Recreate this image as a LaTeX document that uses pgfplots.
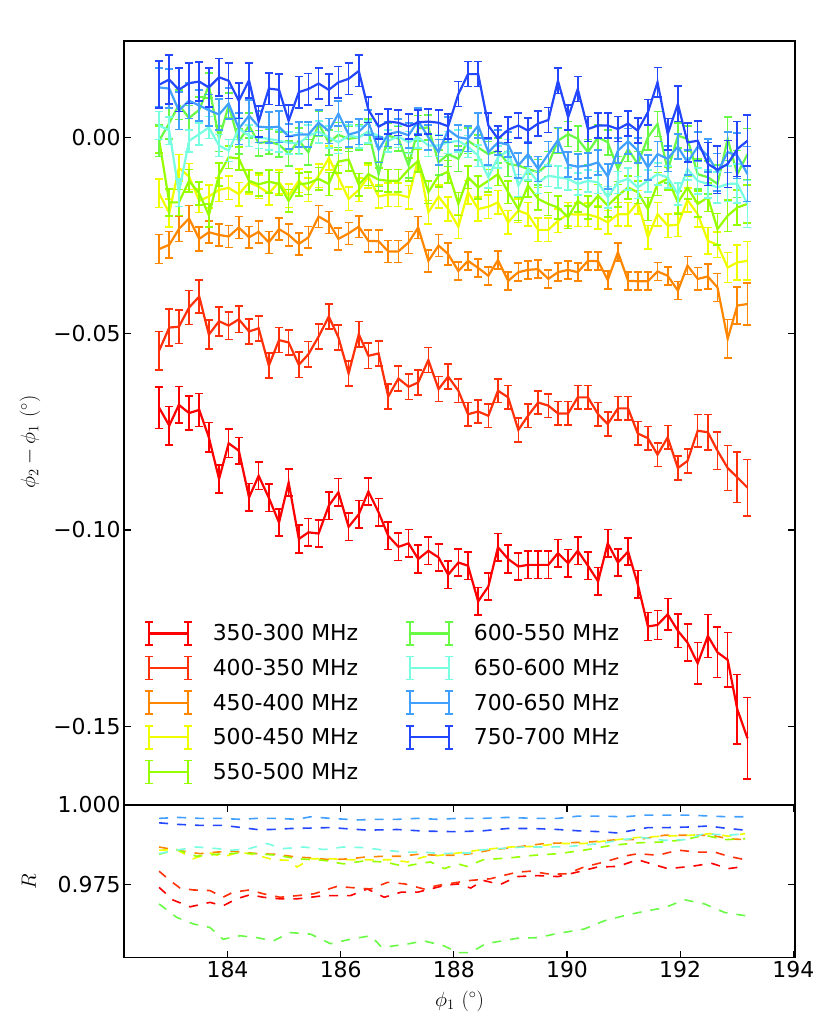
\documentclass[border=0pt]{standalone}
\usepackage{pgfplots}
\pgfplotsset{compat=1.18}
\usepackage{pgfplotstable}
\usepackage{fontspec}
\setmainfont{DejaVu Sans}
\newcommand\fs{\fontsize{22}{26}\selectfont}
\definecolor{cA}{RGB}{255,0,0}
\definecolor{cB}{RGB}{255,48,10}
\definecolor{cC}{RGB}{255,135,0}
\definecolor{cD}{RGB}{240,255,0}
\definecolor{cE}{RGB}{150,255,0}
\definecolor{cF}{RGB}{105,250,70}
\definecolor{cG}{RGB}{120,255,225}
\definecolor{cH}{RGB}{65,160,255}
\definecolor{cI}{RGB}{35,70,255}
\pgfplotstableread{
x A eA B eB C eC D eD E eE F eF G eG H eH I eI
182.79 -0.0688 0.0053 -0.0543 0.0049 -0.0284 0.0037 -0.0142 0.0036 -0.0005 0.0034 -0.0008 0.0040 0.0031 0.0036 0.0128 0.0050 0.0135 0.0060
182.97 -0.0734 0.0049 -0.0484 0.0047 -0.0273 0.0034 -0.0192 0.0036 -0.0165 0.0034 0.0037 0.0040 0.0018 0.0035 0.0125 0.0050 0.0148 0.0062
183.14 -0.0681 0.0047 -0.0482 0.0043 -0.0233 0.0032 -0.0077 0.0034 -0.0165 0.0033 0.0084 0.0038 -0.0140 0.0035 0.0069 0.0048 0.0122 0.0055
183.32 -0.0702 0.0043 -0.0433 0.0043 -0.0206 0.0033 -0.0099 0.0033 -0.0110 0.0029 0.0050 0.0032 -0.0008 0.0028 0.0094 0.0045 0.0139 0.0052
183.50 -0.0694 0.0042 -0.0405 0.0042 -0.0258 0.0031 -0.0161 0.0030 -0.0142 0.0029 0.0071 0.0032 0.0009 0.0028 0.0082 0.0040 0.0143 0.0050
183.67 -0.0764 0.0038 -0.0502 0.0037 -0.0241 0.0028 -0.0150 0.0030 -0.0198 0.0029 0.0133 0.0032 0.0026 0.0028 0.0070 0.0040 0.0128 0.0050
183.85 -0.0870 0.0036 -0.0468 0.0037 -0.0248 0.0028 -0.0133 0.0030 -0.0094 0.0029 -0.0003 0.0032 -0.0020 0.0028 0.0059 0.0040 0.0154 0.0048
184.02 -0.0779 0.0036 -0.0479 0.0035 -0.0252 0.0028 -0.0128 0.0030 -0.0050 0.0029 0.0082 0.0032 -0.0033 0.0028 0.0087 0.0040 0.0145 0.0045
184.20 -0.0798 0.0034 -0.0463 0.0034 -0.0229 0.0028 -0.0144 0.0030 -0.0053 0.0029 -0.0010 0.0032 0.0023 0.0028 0.0023 0.0040 0.0094 0.0045
184.38 -0.0917 0.0035 -0.0494 0.0032 -0.0254 0.0028 -0.0114 0.0030 -0.0110 0.0029 0.0031 0.0032 0.0005 0.0028 0.0056 0.0040 0.0146 0.0045
184.55 -0.0862 0.0035 -0.0486 0.0032 -0.0240 0.0028 -0.0125 0.0030 -0.0119 0.0029 -0.0014 0.0032 0.0000 0.0028 0.0028 0.0040 0.0041 0.0040
184.73 -0.0918 0.0035 -0.0581 0.0032 -0.0267 0.0028 -0.0142 0.0030 -0.0112 0.0029 -0.0010 0.0032 -0.0003 0.0028 0.0026 0.0040 0.0125 0.0040
184.91 -0.0981 0.0035 -0.0516 0.0032 -0.0233 0.0028 -0.0113 0.0030 -0.0118 0.0029 -0.0018 0.0032 -0.0008 0.0028 0.0028 0.0040 0.0122 0.0040
185.08 -0.0879 0.0035 -0.0522 0.0032 -0.0248 0.0028 -0.0148 0.0030 -0.0161 0.0029 -0.0040 0.0032 -0.0013 0.0028 0.0003 0.0032 0.0043 0.0040
185.26 -0.1023 0.0035 -0.0579 0.0032 -0.0271 0.0028 -0.0110 0.0030 -0.0119 0.0029 -0.0008 0.0032 -0.0015 0.0028 0.0008 0.0032 0.0116 0.0040
185.43 -0.1006 0.0035 -0.0552 0.0032 -0.0254 0.0028 -0.0133 0.0030 -0.0116 0.0029 -0.0037 0.0032 0.0005 0.0028 0.0008 0.0032 0.0124 0.0040
185.61 -0.1009 0.0035 -0.0507 0.0032 -0.0201 0.0028 -0.0097 0.0030 -0.0105 0.0029 0.0035 0.0032 0.0015 0.0028 0.0038 0.0032 0.0138 0.0040
185.79 -0.0938 0.0035 -0.0456 0.0032 -0.0216 0.0028 -0.0052 0.0030 -0.0118 0.0029 -0.0012 0.0032 0.0001 0.0028 0.0017 0.0032 0.0122 0.0040
185.96 -0.0904 0.0035 -0.0509 0.0032 -0.0258 0.0028 -0.0101 0.0030 -0.0061 0.0029 0.0007 0.0032 -0.0012 0.0028 0.0061 0.0032 0.0141 0.0040
186.14 -0.0992 0.0035 -0.0601 0.0032 -0.0244 0.0028 -0.0156 0.0030 -0.0056 0.0029 -0.0003 0.0032 0.0005 0.0028 0.0008 0.0032 0.0150 0.0040
186.32 -0.0960 0.0035 -0.0501 0.0032 -0.0227 0.0028 -0.0133 0.0030 -0.0120 0.0029 0.0001 0.0032 0.0001 0.0028 0.0015 0.0032 0.0170 0.0040
186.49 -0.0902 0.0035 -0.0556 0.0032 -0.0263 0.0028 -0.0099 0.0030 -0.0093 0.0029 0.0015 0.0032 0.0015 0.0028 0.0039 0.0032 0.0071 0.0032
186.67 -0.0955 0.0035 -0.0550 0.0032 -0.0264 0.0028 -0.0150 0.0030 -0.0107 0.0029 -0.0093 0.0032 0.0005 0.0028 -0.0031 0.0032 0.0028 0.0032
186.84 -0.1015 0.0035 -0.0660 0.0032 -0.0290 0.0028 -0.0145 0.0030 -0.0110 0.0029 0.0005 0.0032 -0.0008 0.0028 0.0009 0.0032 0.0041 0.0032
187.02 -0.1043 0.0035 -0.0614 0.0032 -0.0290 0.0028 -0.0145 0.0030 -0.0110 0.0029 -0.0002 0.0032 0.0003 0.0028 0.0015 0.0032 0.0038 0.0032
187.20 -0.1034 0.0035 -0.0635 0.0032 -0.0267 0.0028 -0.0152 0.0030 -0.0081 0.0029 -0.0071 0.0032 -0.0012 0.0028 0.0006 0.0032 0.0029 0.0032
187.37 -0.1074 0.0035 -0.0624 0.0032 -0.0229 0.0028 -0.0055 0.0030 -0.0059 0.0029 0.0024 0.0032 0.0001 0.0028 0.0043 0.0032 0.0039 0.0032
187.55 -0.1053 0.0035 -0.0567 0.0032 -0.0314 0.0028 -0.0190 0.0030 -0.0139 0.0029 0.0026 0.0032 -0.0020 0.0028 0.0001 0.0032 0.0041 0.0032
187.73 -0.1070 0.0035 -0.0641 0.0032 -0.0275 0.0028 -0.0150 0.0030 -0.0097 0.0029 -0.0063 0.0032 -0.0020 0.0028 -0.0037 0.0032 0.0038 0.0032
187.90 -0.1114 0.0035 -0.0609 0.0032 -0.0297 0.0028 -0.0182 0.0030 -0.0087 0.0029 -0.0042 0.0032 -0.0012 0.0028 0.0020 0.0032 0.0029 0.0032
188.08 -0.1083 0.0035 -0.0645 0.0030 -0.0340 0.0023 -0.0227 0.0030 -0.0169 0.0029 -0.0054 0.0032 -0.0008 0.0028 0.0001 0.0032 0.0111 0.0032
188.25 -0.1091 0.0035 -0.0705 0.0030 -0.0314 0.0023 -0.0139 0.0030 -0.0101 0.0029 -0.0008 0.0032 -0.0023 0.0028 -0.0003 0.0032 0.0162 0.0032
188.43 -0.1182 0.0035 -0.0698 0.0030 -0.0332 0.0023 -0.0182 0.0030 -0.0127 0.0029 -0.0025 0.0032 -0.0046 0.0028 0.0031 0.0032 0.0162 0.0032
188.61 -0.1144 0.0035 -0.0709 0.0030 -0.0352 0.0023 -0.0176 0.0030 -0.0110 0.0029 -0.0042 0.0032 -0.0101 0.0028 -0.0037 0.0032 0.0031 0.0032
188.78 -0.1044 0.0035 -0.0645 0.0030 -0.0312 0.0023 -0.0165 0.0030 -0.0093 0.0029 -0.0033 0.0032 -0.0050 0.0028 -0.0012 0.0032 -0.0003 0.0032
188.96 -0.1074 0.0035 -0.0662 0.0030 -0.0365 0.0023 -0.0216 0.0030 -0.0139 0.0029 -0.0067 0.0032 -0.0033 0.0028 -0.0018 0.0032 0.0020 0.0032
189.14 -0.1093 0.0035 -0.0745 0.0030 -0.0343 0.0023 -0.0186 0.0030 -0.0182 0.0029 -0.0071 0.0032 -0.0122 0.0028 -0.0071 0.0032 0.0031 0.0032
189.31 -0.1089 0.0035 -0.0709 0.0030 -0.0337 0.0023 -0.0195 0.0030 -0.0122 0.0029 -0.0080 0.0032 -0.0080 0.0028 -0.0042 0.0032 0.0018 0.0032
189.49 -0.1089 0.0035 -0.0675 0.0030 -0.0335 0.0023 -0.0235 0.0030 -0.0156 0.0029 -0.0088 0.0032 -0.0114 0.0028 -0.0080 0.0032 0.0036 0.0032
189.67 -0.1089 0.0035 -0.0683 0.0030 -0.0360 0.0023 -0.0235 0.0030 -0.0169 0.0029 -0.0067 0.0032 -0.0097 0.0028 -0.0042 0.0032 0.0045 0.0032
189.84 -0.1059 0.0035 -0.0703 0.0030 -0.0343 0.0023 -0.0212 0.0030 -0.0178 0.0029 -0.0008 0.0032 -0.0101 0.0028 -0.0006 0.0032 0.0145 0.0032
190.02 -0.1085 0.0035 -0.0703 0.0030 -0.0337 0.0023 -0.0195 0.0030 -0.0203 0.0029 0.0009 0.0032 -0.0105 0.0028 -0.0069 0.0032 0.0052 0.0032
190.19 -0.1053 0.0035 -0.0662 0.0030 -0.0343 0.0023 -0.0196 0.0030 -0.0161 0.0029 -0.0003 0.0032 -0.0118 0.0028 -0.0074 0.0032 0.0124 0.0032
190.37 -0.1091 0.0035 -0.0662 0.0030 -0.0314 0.0023 -0.0196 0.0030 -0.0178 0.0029 -0.0037 0.0032 -0.0110 0.0028 -0.0071 0.0032 0.0022 0.0032
190.55 -0.1131 0.0035 -0.0705 0.0030 -0.0315 0.0023 -0.0203 0.0030 -0.0148 0.0029 0.0001 0.0032 -0.0114 0.0028 -0.0063 0.0032 0.0031 0.0032
190.72 -0.1034 0.0035 -0.0730 0.0030 -0.0363 0.0023 -0.0216 0.0030 -0.0173 0.0029 -0.0012 0.0032 -0.0152 0.0028 -0.0099 0.0032 0.0031 0.0032
190.90 -0.1083 0.0035 -0.0690 0.0030 -0.0292 0.0023 -0.0195 0.0030 -0.0148 0.0029 -0.0080 0.0032 -0.0114 0.0028 -0.0033 0.0032 0.0022 0.0032
191.08 -0.1055 0.0035 -0.0690 0.0030 -0.0365 0.0023 -0.0195 0.0030 -0.0127 0.0029 -0.0029 0.0032 -0.0105 0.0028 -0.0009 0.0032 0.0036 0.0032
191.25 -0.1138 0.0035 -0.0754 0.0030 -0.0366 0.0023 -0.0165 0.0030 -0.0139 0.0029 -0.0067 0.0032 -0.0127 0.0028 -0.0033 0.0032 0.0018 0.0032
191.43 -0.1246 0.0036 -0.0766 0.0030 -0.0366 0.0023 -0.0254 0.0030 -0.0182 0.0029 0.0001 0.0032 -0.0110 0.0028 -0.0076 0.0032 0.0065 0.0032
191.60 -0.1242 0.0037 -0.0808 0.0030 -0.0341 0.0023 -0.0195 0.0030 -0.0118 0.0029 0.0035 0.0032 -0.0093 0.0028 -0.0042 0.0032 0.0141 0.0038
191.78 -0.1215 0.0040 -0.0764 0.0030 -0.0352 0.0023 -0.0224 0.0030 -0.0105 0.0029 -0.0084 0.0032 -0.0101 0.0028 -0.0054 0.0032 0.0009 0.0040
191.96 -0.1257 0.0043 -0.0842 0.0030 -0.0390 0.0023 -0.0222 0.0030 -0.0165 0.0029 0.0005 0.0032 -0.0144 0.0028 -0.0023 0.0032 0.0086 0.0045
192.13 -0.1287 0.0047 -0.0824 0.0030 -0.0326 0.0023 -0.0159 0.0030 -0.0127 0.0029 -0.0003 0.0032 -0.0080 0.0028 -0.0063 0.0032 -0.0012 0.0050
192.31 -0.1340 0.0053 -0.0747 0.0041 -0.0360 0.0029 -0.0195 0.0032 -0.0169 0.0033 -0.0093 0.0038 -0.0110 0.0033 -0.0023 0.0038 -0.0008 0.0050
192.49 -0.1270 0.0055 -0.0751 0.0045 -0.0354 0.0032 -0.0263 0.0034 -0.0152 0.0036 -0.0101 0.0042 -0.0118 0.0036 -0.0046 0.0042 -0.0067 0.0055
192.66 -0.1312 0.0064 -0.0798 0.0048 -0.0382 0.0036 -0.0273 0.0032 -0.0233 0.0040 -0.0118 0.0048 -0.0127 0.0040 -0.0088 0.0048 -0.0082 0.0060
192.84 -0.1331 0.0070 -0.0842 0.0057 -0.0513 0.0049 -0.0331 0.0038 -0.0199 0.0040 -0.0003 0.0055 -0.0118 0.0045 -0.0037 0.0052 -0.0067 0.0060
193.01 -0.1457 0.0089 -0.0866 0.0064 -0.0428 0.0047 -0.0318 0.0045 -0.0178 0.0045 -0.0093 0.0060 -0.0117 0.0050 -0.0046 0.0058 -0.0029 0.0070
193.19 -0.1531 0.0104 -0.0892 0.0072 -0.0424 0.0053 -0.0314 0.0049 -0.0169 0.0048 -0.0042 0.0065 -0.0169 0.0060 -0.0093 0.0070 -0.0008 0.0065
}\data
\pgfplotsset{
  myax/.style={scale only axis, width=671bp, xmin=182.17, xmax=194.03,
    axis line style={line width=1.5bp}, tick style={line width=1.2bp, color=black},
    major tick length=7bp, tick align=inside,
    every tick label/.append style={font=\fs},
    label style={font=\fs}},
  eb/.style={#1, line width=2.2bp, forget plot,
    error bars/.cd, y dir=both, y explicit,
    error bar style={line width=1.6bp, #1},
    error mark options={#1, rotate=90, mark size=4bp, line width=1.6bp}},
  rl/.style={#1, line width=1.6bp, dash pattern=on 9bp off 9bp}
}
\begin{document}
\begin{tikzpicture}
\path[use as bounding box] (0,0) rectangle (831bp,1032bp);
\begin{axis}[myax, at={(124bp,227bp)}, anchor=south west, height=764bp,
  ymin=-0.1701, ymax=0.02464, xtick=\empty,
  ytick={-0.15,-0.10,-0.05,0}, yticklabels={−0.15,−0.10,−0.05,0.00},
  every axis y label/.style={at={(axis description cs:-0.140,0.475)}, rotate=90, anchor=center, font=\fs},
  ylabel={$\phi_2-\phi_1\ (^\circ)$},
  legend image code/.code={
    \draw[#1, line width=2.2bp] (0bp,0bp) -- (39bp,0bp);
    \draw[#1, line width=1.6bp] (0bp,-11.5bp) -- (0bp,11.5bp) (39bp,-11.5bp) -- (39bp,11.5bp)
      (-4bp,11.5bp) -- (4bp,11.5bp) (-4bp,-11.5bp) -- (4bp,-11.5bp)
      (35bp,11.5bp) -- (43bp,11.5bp) (35bp,-11.5bp) -- (43bp,-11.5bp);},
  legend cell align=left,
  legend style={at={(axis description cs:0.0298,0.2408)}, anchor=north west, draw=none, fill=none,
    legend columns=2, font=\fs, row sep=10bp, inner sep=0pt, nodes={inner sep=0pt},
    /tikz/every odd column/.append style={column sep=20bp},
    /tikz/every even column/.append style={column sep=47bp}}
]
\addplot[eb=cA] table[x=x, y=A, y error=eA] {\data};
\addplot[eb=cB] table[x=x, y=B, y error=eB] {\data};
\addplot[eb=cC] table[x=x, y=C, y error=eC] {\data};
\addplot[eb=cD] table[x=x, y=D, y error=eD] {\data};
\addplot[eb=cE] table[x=x, y=E, y error=eE] {\data};
\addplot[eb=cF] table[x=x, y=F, y error=eF] {\data};
\addplot[eb=cG] table[x=x, y=G, y error=eG] {\data};
\addplot[eb=cH] table[x=x, y=H, y error=eH] {\data};
\addplot[eb=cI] table[x=x, y=I, y error=eI] {\data};
\addlegendimage{cA}\addlegendentry{350-300 MHz}
\addlegendimage{cF}\addlegendentry{600-550 MHz}
\addlegendimage{cB}\addlegendentry{400-350 MHz}
\addlegendimage{cG}\addlegendentry{650-600 MHz}
\addlegendimage{cC}\addlegendentry{450-400 MHz}
\addlegendimage{cH}\addlegendentry{700-650 MHz}
\addlegendimage{cD}\addlegendentry{500-450 MHz}
\addlegendimage{cI}\addlegendentry{750-700 MHz}
\addlegendimage{cE}\addlegendentry{550-500 MHz}
\end{axis}
\begin{axis}[myax, at={(124bp,74.3bp)}, anchor=south west, height=152.7bp,
  ymin=0.952, ymax=1.0,
  xtick={184,186,188,190,192,194}, xticklabels={184,186,188,190,192,194},
  ytick={0.975,1.0}, yticklabels={0.975,1.000},
  every axis y label/.style={at={(axis description cs:-0.142,0.5)}, rotate=90, anchor=center, font=\fs},
  every axis x label/.style={at={(axis description cs:0.5,-0.285)}, anchor=center, font=\fs},
  ylabel={$R$}, xlabel={$\phi_1\ (^\circ)$}
]
\addplot[rl=cA] coordinates {(182.79,0.9741) (183.04,0.9701) (183.34,0.9680) (183.69,0.9694) (183.92,0.9683) (184.16,0.9705) (184.40,0.9718) (184.63,0.9710) (184.93,0.9705) (185.23,0.9705) (185.47,0.9710) (185.70,0.9715) (185.93,0.9715) (186.17,0.9715) (186.47,0.9736) (186.77,0.9710) (187.07,0.9726) (187.36,0.9726) (187.59,0.9736) (187.83,0.9747) (188.07,0.9752) (188.30,0.9739) (188.52,0.9763) (188.82,0.9750) (189.12,0.9775) (189.48,0.9778) (189.84,0.9775) (190.18,0.9789) (190.54,0.9805) (190.90,0.9807) (191.25,0.9828) (191.49,0.9815) (191.78,0.9800) (192.20,0.9807) (192.55,0.9817) (192.85,0.9800) (193.15,0.9807)};
\addplot[rl=cB] coordinates {(182.79,0.9792) (182.98,0.9763) (183.16,0.9739) (183.39,0.9733) (183.69,0.9731) (183.92,0.9710) (184.10,0.9726) (184.39,0.9733) (184.63,0.9721) (184.93,0.9710) (185.23,0.9715) (185.53,0.9721) (185.93,0.9744) (186.29,0.9739) (186.53,0.9736) (186.83,0.9757) (187.13,0.9752) (187.47,0.9736) (187.71,0.9747) (188.07,0.9757) (188.30,0.9763) (188.64,0.9768) (189.12,0.9789) (189.36,0.9792) (189.71,0.9782) (190.00,0.9784) (190.30,0.9805) (190.66,0.9821) (191.01,0.9839) (191.25,0.9847) (191.61,0.9842) (191.96,0.9858) (192.31,0.9852) (192.61,0.9852) (192.85,0.9839) (193.15,0.9828)};
\addplot[rl=cC] coordinates {(182.79,0.9868) (183.10,0.9858) (183.51,0.9847) (183.81,0.9852) (184.10,0.9855) (184.52,0.9847) (184.87,0.9845) (185.23,0.9836) (185.47,0.9834) (185.82,0.9828) (186.17,0.9831) (186.41,0.9836) (186.77,0.9839) (187.07,0.9839) (187.36,0.9845) (187.71,0.9842) (188.07,0.9842) (188.30,0.9847) (188.64,0.9858) (189.12,0.9868) (189.60,0.9879) (190.00,0.9881) (190.42,0.9884) (190.89,0.9891) (191.25,0.9891) (191.72,0.9905) (192.20,0.9905) (192.55,0.9905) (192.85,0.9894) (193.15,0.9891)};
\addplot[rl=cD] coordinates {(182.79,0.9858) (183.10,0.9860) (183.39,0.9831) (183.69,0.9849) (183.92,0.9837) (184.22,0.9852) (184.52,0.9842) (184.81,0.9828) (185.11,0.9826) (185.23,0.9805) (185.47,0.9831) (185.82,0.9831) (186.17,0.9828) (186.53,0.9828) (186.89,0.9828) (187.18,0.9821) (187.47,0.9837) (187.77,0.9842) (188.07,0.9849) (188.52,0.9860) (189.00,0.9868) (189.42,0.9870) (189.89,0.9879) (190.30,0.9879) (190.78,0.9889) (191.25,0.9898) (191.72,0.9902) (192.20,0.9905) (192.55,0.9910) (192.85,0.9902) (193.15,0.9910)};
\addplot[rl=cE] coordinates {(182.79,0.9845) (183.10,0.9860) (183.45,0.9839) (183.81,0.9845) (184.22,0.9849) (184.52,0.9847) (184.87,0.9842) (185.23,0.9831) (185.70,0.9826) (186.05,0.9815) (186.41,0.9824) (186.77,0.9821) (187.13,0.9807) (187.36,0.9815) (187.59,0.9821) (187.83,0.9800) (188.07,0.9815) (188.23,0.9807) (188.52,0.9828) (189.00,0.9834) (189.42,0.9842) (189.84,0.9847) (190.30,0.9858) (190.78,0.9873) (191.25,0.9881) (191.72,0.9884) (192.08,0.9891) (192.43,0.9905) (192.79,0.9891) (193.15,0.9894)};
\addplot[rl=cF] coordinates {(182.79,0.9689) (183.10,0.9647) (183.40,0.9626) (183.69,0.9615) (183.92,0.9578) (184.22,0.9589) (184.52,0.9583) (184.81,0.9573) (185.11,0.9599) (185.47,0.9594) (185.82,0.9564) (186.17,0.9578) (186.53,0.9589) (186.73,0.9552) (187.18,0.9563) (187.47,0.9573) (187.83,0.9557) (188.07,0.9536) (188.30,0.9536) (188.56,0.9564) (189.12,0.9581) (189.48,0.9583) (189.83,0.9596) (190.30,0.9610) (190.66,0.9636) (191.01,0.9652) (191.37,0.9666) (191.72,0.9677) (192.08,0.9702) (192.43,0.9689) (192.79,0.9662) (193.15,0.9652)};
\addplot[rl=cG] coordinates {(182.79,0.9847) (183.10,0.9858) (183.45,0.9868) (183.81,0.9863) (184.09,0.9858) (184.39,0.9863) (184.69,0.9879) (184.99,0.9863) (185.35,0.9868) (185.70,0.9860) (186.05,0.9868) (186.41,0.9866) (186.77,0.9858) (187.13,0.9852) (187.47,0.9852) (187.77,0.9847) (188.07,0.9849) (188.30,0.9849) (188.42,0.9858) (188.82,0.9863) (189.24,0.9868) (189.72,0.9868) (190.06,0.9870) (190.60,0.9879) (190.90,0.9889) (191.31,0.9898) (191.72,0.9889) (192.08,0.9891) (192.43,0.9910) (192.85,0.9905) (193.15,0.9910)};
\addplot[rl=cH] coordinates {(182.79,0.9958) (183.13,0.9961) (183.51,0.9958) (183.87,0.9958) (184.22,0.9955) (184.52,0.9958) (184.87,0.9958) (185.23,0.9955) (185.47,0.9963) (185.82,0.9958) (186.29,0.9953) (186.65,0.9955) (187.00,0.9955) (187.36,0.9958) (187.71,0.9955) (188.07,0.9958) (188.52,0.9958) (188.94,0.9961) (189.42,0.9958) (189.84,0.9958) (190.19,0.9965) (190.60,0.9965) (191.01,0.9963) (191.37,0.9968) (191.72,0.9968) (192.20,0.9968) (192.55,0.9965) (192.85,0.9963) (193.15,0.9963)};
\addplot[rl=cI] coordinates {(182.79,0.9944) (183.13,0.9939) (183.51,0.9936) (183.92,0.9936) (184.16,0.9931) (184.52,0.9923) (184.76,0.9923) (185.11,0.9926) (185.81,0.9929) (186.47,0.9921) (187.00,0.9923) (187.47,0.9918) (188.07,0.9916) (188.52,0.9919) (188.94,0.9926) (189.42,0.9926) (189.84,0.9923) (190.19,0.9919) (190.60,0.9916) (190.90,0.9912) (191.43,0.9929) (191.78,0.9929) (192.19,0.9931) (192.49,0.9934) (192.85,0.9926) (193.15,0.9921)};
\end{axis}
\end{tikzpicture}
\end{document}
